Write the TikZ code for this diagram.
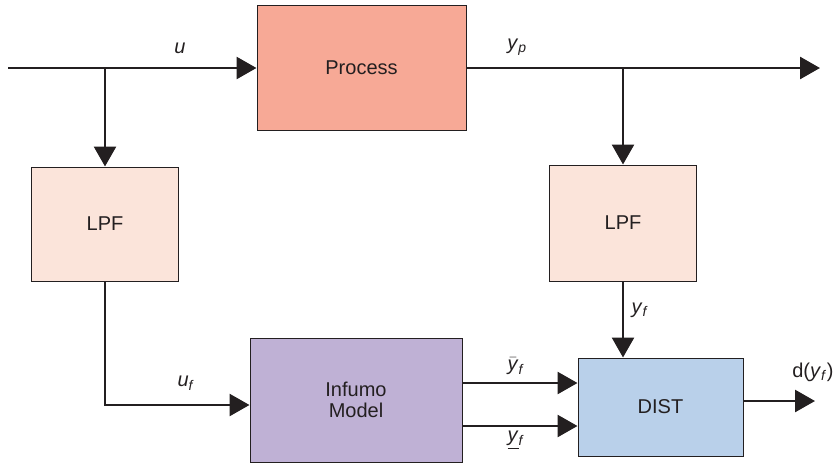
\documentclass[tikz,border=0pt]{standalone}
\usepackage{fontspec}
\setmainfont{Liberation Sans}
\usepackage{xcolor}
\usetikzlibrary{arrows.meta, positioning}
\definecolor{inkgray}{HTML}{231F20}
\definecolor{procfill}{HTML}{F7A996}
\definecolor{lpffill}{HTML}{FBE4DA}
\definecolor{modelfill}{HTML}{BFB1D5}
\definecolor{distfill}{HTML}{B9D0EA}
\tikzset{
    block/.style={rectangle, draw=inkgray, line width=0.75pt, fill=#1, text=inkgray, font=\fontsize{15}{16}\selectfont, align=center, inner sep=0pt},
    signal/.style={line width=2pt, draw=inkgray, -{Triangle[length=15pt, width=16.5pt]}},
    wire/.style={line width=2pt, draw=inkgray},
    sig/.style={text=inkgray, font=\fontsize{15}{16}\selectfont, inner sep=0pt}
}

\begin{document}
\begin{tikzpicture}[x=0.75pt, y=-0.75pt]
            \useasboundingbox (0,0) rectangle (835,468);

            % Blocks
            \node[block=procfill, minimum width=156.75pt, minimum height=93.75pt] (proc) at (361.5, 67.5) {Process};
            \node[block=lpffill, minimum width=110.25pt, minimum height=85.5pt] (lpfu) at (105, 224) {LPF};
            \node[block=lpffill, minimum width=110.25pt, minimum height=87pt] (lpfy) at (623, 223) {LPF};
            \node[block=modelfill, minimum width=159pt, minimum height=93pt, font=\fontsize{15}{15.75}\selectfont] (model) at (356, 400) {Infumo\\Model};
            \node[block=distfill, minimum width=123.75pt, minimum height=73.5pt] (dist) at (660.5, 407) {DIST};

            % Free ends
            \coordinate (uin) at (8, 68);
            \coordinate (ypout) at (820, 68);
            \coordinate (dout) at (815, 401);

            % Input and branch to the first filter
            \draw[signal] (uin) -- (proc.west |- uin);
            \draw[signal] (lpfu.north |- uin) -- (lpfu.north);
            \draw[signal] (lpfu.south) |- (model.west |- 0,405);

            % Output and branch to the second filter
            \draw[signal] (proc.east |- ypout) -- (ypout);
            \draw[signal] (lpfy.north |- ypout) -- (lpfy.north);
            \draw[signal] (lpfy.south) -- (lpfy.south |- dist.north);

            % Model outputs into DIST
            \draw[signal] (model.east |- 0,383) -- (dist.west |- 0,383);
            \draw[signal] (model.east |- 0,426) -- (dist.west |- 0,426);
            \draw[signal] (dist.east |- dout) -- (dout);

            % Signal labels
            \node[sig] (lu) at (180, 48) {\textit{u}};
            \node[sig] (lyp) at (517, 47) {\textit{y}\textsubscript{\textit{p}}};
            \node[sig] (luf) at (186, 383) {\textit{u}\textsubscript{\textit{f}}};
            \node[sig] (lyf) at (640, 310) {\textit{y}\textsubscript{\textit{f}}};
            \node[sig] (lybar) at (516, 366) {$\bar{\mbox{\textit{y}}}$\textsubscript{\textit{f}}};
            \node[sig] (lyund) at (516, 440) {\underline{\textit{y}}\textsubscript{\textit{f}}};
            \node[sig, anchor=west] (ld) at (792, 372) {d(\textit{y}\textsubscript{\textit{f}})};

        \end{tikzpicture}
\end{document}
